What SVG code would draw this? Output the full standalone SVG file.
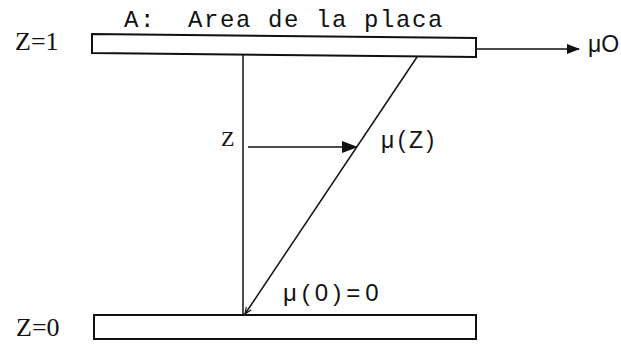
<svg xmlns="http://www.w3.org/2000/svg" width="621" height="344" viewBox="0 0 621 344">
<style>
.t{font-family:"Liberation Mono","DejaVu Sans Mono",monospace;fill:#111;white-space:pre}
.s{font-family:"Liberation Serif","DejaVu Serif",serif;fill:#111}
.g{font-family:"Liberation Sans","DejaVu Sans",sans-serif;fill:#111}
.ln{stroke:#111;stroke-width:1.5;fill:none}
.pl{stroke:#111;stroke-width:2;fill:#fff}
</style>
<defs>
<marker id="ah" markerWidth="16" markerHeight="12" refX="15" refY="6" orient="auto" markerUnits="userSpaceOnUse">
<path d="M0,0 L16,6 L0,12 z" fill="#111"/>
</marker>
<marker id="ah2" markerWidth="13" markerHeight="10" refX="12" refY="5" orient="auto" markerUnits="userSpaceOnUse">
<path d="M0,0 L13,5 L0,10 z" fill="#111"/>
</marker>
<marker id="sm" markerWidth="8" markerHeight="8" refX="7" refY="4" orient="auto" markerUnits="userSpaceOnUse">
<path d="M0,1 L7,4 L0,7" fill="none" stroke="#111" stroke-width="1.2"/>
</marker>
</defs>
<rect width="621" height="344" fill="#fff"/>
<g id="title"><text class="t" x="124" y="27" font-size="24" letter-spacing="1.6" xml:space="preserve">A:  Area de la placa</text></g>
<g id="plate-top">
<path class="pl" d="M92,34 L476,38 L476,57 L92,53 Z"/>
<text class="s" x="15" y="50" font-size="26">Z=1</text>
</g>
<g id="plate-bottom">
<rect class="pl" x="94" y="315" width="382" height="24"/>
<text class="s" x="16" y="336" font-size="26">Z=0</text>
</g>
<g id="labels">
<text class="s" x="221" y="146" font-size="22">Z</text>
<text class="g" x="381" y="148" font-size="23" letter-spacing="3.5">μ(Z)</text>
<text class="g" x="283" y="301" font-size="24" letter-spacing="5">μ(0)=0</text>
<text class="g" x="588" y="52" font-size="23">μO</text>
</g>
<g id="connectors">
<line class="ln" x1="243" y1="55" x2="243" y2="315"/>
<line class="ln" x1="417" y1="57" x2="245" y2="314" marker-end="url(#sm)"/>
<line class="ln" x1="248" y1="147" x2="357" y2="147" marker-end="url(#ah)"/>
<line class="ln" x1="476" y1="49" x2="579" y2="49" marker-end="url(#ah2)"/>
</g>
</svg>
